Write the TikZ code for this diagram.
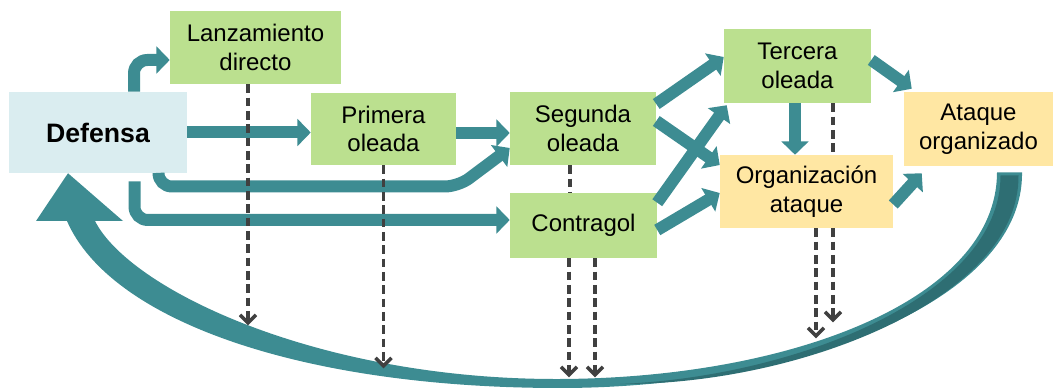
\documentclass[tikz,border=0pt]{standalone}
\usepackage{fontspec}
\setmainfont{Liberation Sans}
\usetikzlibrary{arrows.meta,calc}

\definecolor{flowteal}{RGB}{61,140,146}
\definecolor{darkteal}{RGB}{46,110,115}
\definecolor{boxgreen}{RGB}{187,224,143}
\definecolor{boxblue}{RGB}{218,237,240}
\definecolor{boxyellow}{RGB}{255,231,163}
\definecolor{dashgray}{RGB}{64,64,64}

\tikzset{
  stage/.style={fill=boxgreen, inner sep=0pt, align=center, font=\fontsize{18}{21.6}\selectfont},
  goal/.style={stage, fill=boxyellow},
  flow/.style={draw=flowteal, line width=9pt, rounded corners=10pt, -{Triangle[length=10pt,width=20pt]}},
  trace/.style={draw=dashgray, line width=2.6pt, dash pattern=on 6.5pt off 3.5pt, -{Straight Barb[length=6pt,width=12pt]}},
}

\begin{document}
\begin{tikzpicture}[x=0.75pt,y=0.75pt,yscale=-1,xscale=1]
\useasboundingbox (0,0) rectangle (1053,388);

% Boxes
\node[stage, fill=boxblue, minimum width=133.5pt, minimum height=60.75pt, font=\fontsize{20}{24}\selectfont\bfseries] (defensa) at (98,132.5) {Defensa};
\node[stage, minimum width=128.25pt, minimum height=54.75pt] (lanz) at (255.5,47.5) {Lanzamiento\\directo};
\node[stage, minimum width=108.75pt, minimum height=54pt] (primera) at (383.5,129) {Primera\\oleada};
\node[stage, minimum width=109.5pt, minimum height=54.75pt] (segunda) at (583,128.5) {Segunda\\oleada};
\node[stage, minimum width=110.25pt, minimum height=48.75pt] (contragol) at (583.5,225.5) {Contragol};
\node[stage, minimum width=110.25pt, minimum height=55.5pt] (tercera) at (797.5,66) {Tercera\\oleada};
\node[goal, minimum width=129.75pt, minimum height=54.75pt] (organiz) at (806.5,191.5) {Organización\\ataque};
\node[goal, minimum width=111.75pt, minimum height=55.5pt] (ataque) at (978.5,129) {Ataque\\organizado};

% Return arrow
\fill[flowteal] ($(ataque.south)+(43.5,6)$) .. controls (1024,300) and (800,388) .. (560,388)
  .. controls (300,388) and (110,320) .. (67,221) -- (36,221) -- ($(defensa.south)+(-30,0)$)
  -- (123,221) -- (95,221) .. controls (130,290) and (320,380) .. (560,379)
  .. controls (790,378) and (997,300) .. ($(ataque.south)+(18.5,6)$) -- cycle;
\fill[darkteal] ($(ataque.south)+(40,9)$) .. controls (1020,298) and (800,385) .. (620,384)
  .. controls (795,377) and (1001,296) .. ($(ataque.south)+(22,9)$) -- cycle;

% Flows
\draw[flow] ($(defensa.north)+(36,0)$) |- ($(lanz.west)+(0,12.5)$);
\draw[flow] (defensa.east) -- (defensa.east -| primera.west);
\draw[flow] ($(defensa.south)+(60.5,0)$) |- ($(primera.east)+(2,57.5)$) -- ($(segunda.west)+(0,19.5)$);
\draw[flow] ($(defensa.south)+(36.5,8)$) |- ($(contragol.west)+(0,-5.5)$);
\draw[flow] ($(primera.east)+(0,4)$) -- ($(segunda.west)+(0,4.5)$);
\draw[flow] ($(segunda.east)+(0,-24.5)$) -- ($(tercera.west)+(0,-9)$);
\draw[flow] ($(segunda.east)+(0,-7.5)$) -- ($(organiz.west)+(0,-26.5)$);
\draw[flow] ($(contragol.north east)+(0,10)$) -- ($(tercera.south west)+(3,2)$);
\draw[flow] ($(contragol.east)+(0,4.5)$) -- ($(organiz.west)+(0,1.5)$);
\draw[flow] ($(tercera.south)+(-2.5,0)$) -- ($(organiz.north)+(-11.5,0)$);
\draw[flow] ($(tercera.east)+(0,-6)$) -- ($(ataque.north west)+(8,-3)$);
\draw[flow] ($(organiz.east)+(0,13)$) -- ($(ataque.south west)+(18,7)$);

% Dashed links
\draw[trace] ($(lanz.south)+(-7.5,0)$) -- ++(0,241);
\draw[trace] (primera.south) -- ++(0,203);
\draw[trace, -] ($(segunda.south)+(-13,0)$) -- ($(contragol.north)+(-13.5,0)$);
\draw[trace] ($(contragol.south)+(-14.5,0)$) -- ++(0,119);
\draw[trace] ($(contragol.south)+(11.5,0)$) -- ++(0,119);
\draw[trace, -] ($(tercera.south)+(35.5,0)$) -- ($(organiz.north)+(26.5,0)$);
\draw[trace] ($(organiz.south)+(26.5,0)$) -- ++(0,94);
\draw[trace] ($(organiz.south)+(9.5,0)$) -- ++(0,110);

\end{tikzpicture}
\end{document}
